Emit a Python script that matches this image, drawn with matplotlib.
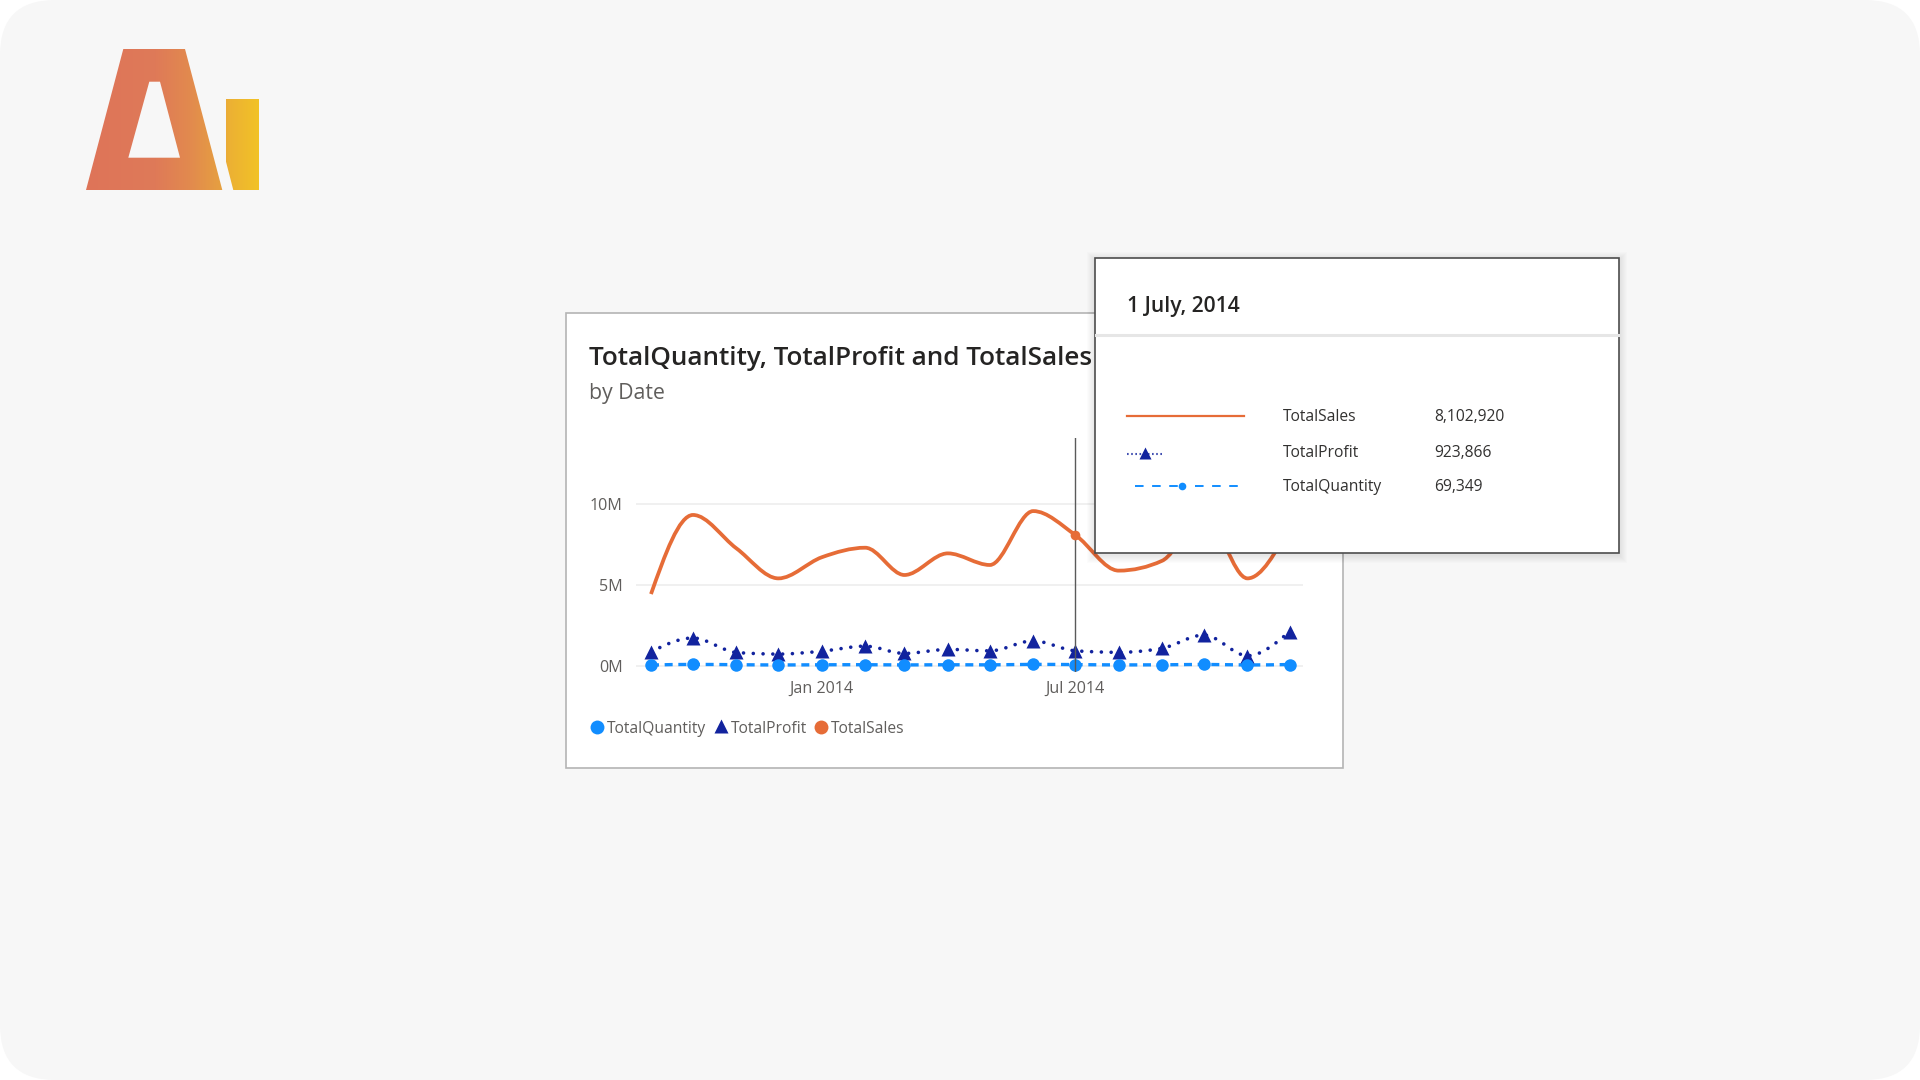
import datetime as dt
import numpy as np
import matplotlib
matplotlib.use("Agg")
import matplotlib.pyplot as plt
import matplotlib.dates as mdates
from matplotlib.path import Path
from matplotlib.patches import PathPatch, Rectangle, FancyBboxPatch
from matplotlib.colors import LinearSegmentedColormap
from matplotlib.lines import Line2D

plt.rcParams['font.family'] = ['Open Sans', 'DejaVu Sans']

# ---------------- data ----------------
months = ['2013-09-01', '2013-10-01', '2013-11-01', '2013-12-01',
          '2014-01-01', '2014-02-01', '2014-03-01', '2014-04-01',
          '2014-05-01', '2014-06-01', '2014-07-01', '2014-08-01',
          '2014-09-01', '2014-10-01', '2014-11-01', '2014-12-01']
total_sales = [4440000, 9340000, 7270000, 5410000, 6720000, 7310000, 5620000, 6960000,
               6240000, 9580000, 8102920, 5890000, 6500000, 9300000, 5410000, 8600000]
total_profit = [860000, 1720000, 820000, 720000, 900000, 1210000, 760000, 1010000,
                920000, 1540000, 923866, 830000, 1080000, 1900000, 620000, 2110000]
total_quantity = [38000, 80000, 62000, 46000, 57000, 62000, 48000, 59000,
                  53000, 82000, 69349, 50000, 55000, 79000, 46000, 73000]
series_names = ['TotalQuantity', 'TotalProfit', 'TotalSales']
y_ticks = [0, 5000000, 10000000]
y_tick_labels = ['0M', '5M', '10M']
x_ticks = ['2014-01-01', '2014-07-01']
x_tick_labels = ['Jan 2014', 'Jul 2014']
chart_title = 'TotalQuantity, TotalProfit and TotalSales'
chart_subtitle = 'by Date'
hover_index = 10
hover_label = '1 July, 2014'

C_QTY = '#118DFF'
C_PROFIT = '#12239E'
C_SALES = '#E66C37'

W, H = 1920, 1080
fig = plt.figure(figsize=(19.2, 10.8), dpi=100, facecolor='white')
renderer = fig.canvas.get_renderer()


def fit_size(text, width_px, weight='normal', base=20.0):
    t = fig.text(0, 0, text, fontsize=base, fontweight=weight)
    w = t.get_window_extent(renderer).width
    t.remove()
    return base * width_px / w


title_fs = fit_size(chart_title, 504, 'semibold')
sub_fs = fit_size(chart_subtitle, 76)
tt_title_fs = fit_size(hover_label, 112, 'semibold')
row_fs = fit_size('TotalQuantity', 99)
tick_fs = fit_size('Jan 2014', 64.4)

# ---------------- background layer (pixel coordinates) ----------------
bg = fig.add_axes([0, 0, 1, 1], zorder=0)
bg.set_xlim(0, W)
bg.set_ylim(H, 0)
bg.axis('off')
bg.add_patch(FancyBboxPatch((0, 0), W, H, boxstyle='round,pad=0,rounding_size=55',
                            facecolor='#F7F7F7', edgecolor='none'))

# logo
A_outer = [(123.3, 49), (185, 49), (222.3, 190), (86, 190)]
A_hole = [(149.3, 81.7), (128.3, 157.7), (180, 157.7), (160, 81.7)]
I_bar = [(226, 99), (259, 99), (259, 190), (233.3, 190), (226, 161.7)]
verts, codes = [], []
for poly in (A_outer, A_hole, I_bar):
    verts += poly + [poly[0]]
    codes += [Path.MOVETO] + [Path.LINETO] * (len(poly) - 1) + [Path.CLOSEPOLY]
logo_path = Path(verts, codes)
clip = PathPatch(logo_path, transform=bg.transData, facecolor='none', edgecolor='none')
bg.add_patch(clip)
cmap = LinearSegmentedColormap.from_list('logo', [
    (0.0, '#DE7459'), (0.40, '#DF7A58'), (0.60, '#E28A4E'),
    (0.78, '#E6A040'), (0.82, '#ECB034'), (1.0, '#F2C326')])
grad = np.linspace(0, 1, 256).reshape(1, -1)
im = bg.imshow(grad, cmap=cmap, extent=(86, 260, 190, 49), aspect='auto', zorder=2)
im.set_clip_path(clip)
bg.set_xlim(0, W)
bg.set_ylim(H, 0)

# card
bg.add_patch(Rectangle((566, 313), 777, 455, facecolor='white', edgecolor='#B4B4B4', lw=1.2))
bg.text(589, 365, chart_title, fontsize=title_fs, fontweight='semibold', color='#252423',
        va='baseline', ha='left')
bg.text(589, 399.5, chart_subtitle, fontsize=sub_fs, color='#605E5C', va='baseline', ha='left')

# bottom legend
leg_y = 726.7
bg.plot([597.3], [leg_y], 'o', ms=10, color=C_QTY, mec='none')
bg.plot([720.7], [leg_y - 0.5], '^', ms=10.5, color=C_PROFIT, mec='none')
bg.plot([821.0], [leg_y], 'o', ms=10, color=C_SALES, mec='none')
for x, name in zip([607.3, 730.7, 830.7], series_names):
    bg.text(x, 732.7, name, fontsize=row_fs, color='#605E5C', va='baseline', ha='left')

# ---------------- chart axes ----------------
L, R, T, B = 636, 1303, 438, 672
ax = fig.add_axes([L / W, 1 - B / H, (R - L) / W, (B - T) / H], zorder=1)
ax.patch.set_alpha(0)
xd = mdates.datestr2num(months)
ppd = 1.4003   # pixels per day
ax.set_xlim(xd[0] - 15 / ppd, xd[-1] + 13.5 / ppd)
ppm = 16.14e-6  # pixels per unit value
ax.set_ylim(-(B - 665.7) / ppm, (665.7 - T) / ppm)
for s in ax.spines.values():
    s.set_visible(False)
ax.set_yticks(y_ticks)
ax.set_yticklabels(y_tick_labels)
ax.set_xticks(mdates.datestr2num(x_ticks))
ax.set_xticklabels(x_tick_labels)
ax.tick_params(axis='y', length=0, pad=9.6, labelsize=tick_fs, labelcolor='#605E5C')
ax.tick_params(axis='x', length=0, pad=6.6, labelsize=tick_fs, labelcolor='#605E5C')
ax.yaxis.grid(True, color='#EDEDED', lw=1.2)
ax.set_axisbelow(True)


def monotone_path(x, y):
    x = np.asarray(x, float)
    y = np.asarray(y, float)
    n = len(x)
    h = np.diff(x)
    s = np.diff(y) / h
    t = np.zeros(n)
    for i in range(1, n - 1):
        h0, h1 = h[i - 1], h[i]
        s0, s1 = s[i - 1], s[i]
        p = (s0 * h1 + s1 * h0) / (h0 + h1)
        t[i] = (np.sign(s0) + np.sign(s1)) * min(abs(s0), abs(s1), 0.5 * abs(p))
    t[0] = (3 * s[0] - t[1]) / 2
    t[-1] = (3 * s[-1] - t[-2]) / 2
    v = [(x[0], y[0])]
    c = [Path.MOVETO]
    for i in range(n - 1):
        d = h[i] / 3
        v += [(x[i] + d, y[i] + d * t[i]), (x[i + 1] - d, y[i + 1] - d * t[i + 1]), (x[i + 1], y[i + 1])]
        c += [Path.CURVE4] * 3
    return Path(v, c)


ax.add_patch(PathPatch(monotone_path(xd, total_sales), facecolor='none', edgecolor=C_SALES,
                       lw=2.7, joinstyle='round', capstyle='butt', zorder=3))
ax.add_patch(PathPatch(monotone_path(xd, total_profit), facecolor='none', edgecolor=C_PROFIT,
                       lw=2.6, linestyle=(0, (0.01, 2.7)), capstyle='round', zorder=4))
ax.plot(xd, total_profit, linestyle='none', marker='^', ms=9.5, color=C_PROFIT, mec='none',
        zorder=5, clip_on=False)
ax.add_patch(PathPatch(monotone_path(xd, total_quantity), facecolor='none', edgecolor=C_QTY,
                       lw=2.4, linestyle=(0, (2.4, 1.7)), capstyle='butt', zorder=4))
ax.plot(xd, total_quantity, linestyle='none', marker='o', ms=9, color=C_QTY, mec='none',
        zorder=5, clip_on=False)
ax.axvline(xd[hover_index], color='#5A5A5A', lw=1.0, zorder=6)
ax.plot([xd[hover_index]], [total_sales[hover_index]], 'o', ms=7, color=C_SALES, mec='none', zorder=7)

# ---------------- tooltip layer ----------------
top = fig.add_axes([0, 0, 1, 1], zorder=3)
top.set_xlim(0, W)
top.set_ylim(H, 0)
top.axis('off')
tx0, ty0, tw, th = 1095, 258, 524, 295
for k in range(1, 9):
    top.add_patch(Rectangle((tx0 - k, ty0 - k + 2), tw + 2 * k, th + 2 * k, facecolor='black',
                            edgecolor='none', alpha=0.012))
top.add_patch(Rectangle((tx0, ty0), tw, th, facecolor='white', edgecolor='#4D4D4D', lw=1.2))
top.add_line(Line2D([tx0 + 1, tx0 + tw - 1], [335, 335], color='#E6E6E6', lw=2.2))
top.text(1127, 312, hover_label, fontsize=tt_title_fs, fontweight='semibold', color='#252423',
         va='baseline', ha='left')

row_y = [415.7, 453.5, 485.7]
base_y = [421, 457, 491]
# sales sample
top.add_line(Line2D([1127, 1244], [row_y[0]] * 2, color=C_SALES, lw=1.6))
# profit sample
top.add_line(Line2D([1127, 1162], [row_y[1]] * 2, color=C_PROFIT, lw=1.5,
                    linestyle=(0, (0.8, 1.2)), alpha=0.8))
top.plot([1145], [row_y[1] - 0.5], '^', ms=9, color=C_PROFIT, mec='none')
# quantity sample
top.add_line(Line2D([1135, 1178], [row_y[2]] * 2, color=C_QTY, lw=1.4, linestyle=(0, (4.4, 4.4))))
top.add_line(Line2D([1195, 1238], [row_y[2]] * 2, color=C_QTY, lw=1.4, linestyle=(0, (4.4, 4.4))))
top.plot([1182.3], [row_y[2]], 'o', ms=5.5, color=C_QTY, mec='none')

rows = [('TotalSales', total_sales[hover_index]),
        ('TotalProfit', total_profit[hover_index]),
        ('TotalQuantity', total_quantity[hover_index])]
for (name, val), by in zip(rows, base_y):
    top.text(1283, by, name, fontsize=row_fs, color='#323130', va='baseline', ha='left')
    top.text(1434, by, f'{val:,.0f}', fontsize=row_fs, color='#323130', va='baseline', ha='left')

fig.savefig('out.png', dpi=100, facecolor='white')
